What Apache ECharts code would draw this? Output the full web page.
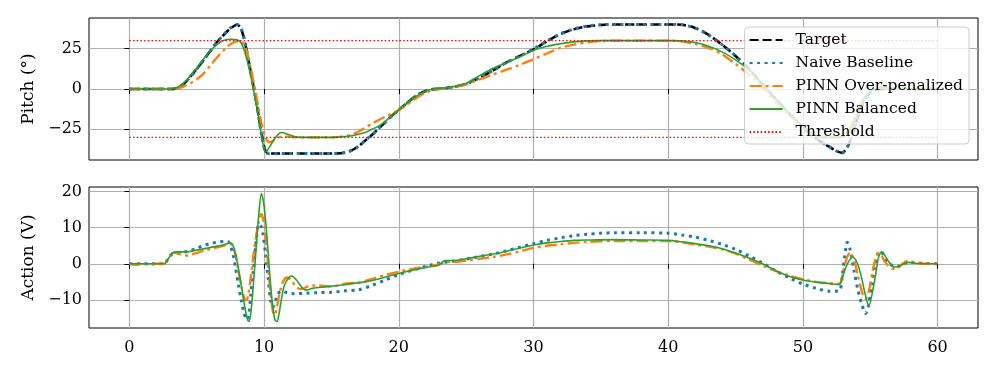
<!DOCTYPE html>
<html>
<head>
<meta charset="utf-8">
<script src="https://cdn.jsdelivr.net/npm/echarts@6/dist/echarts.min.js"></script>
<style>
  html, body { margin: 0; padding: 0; background: #fff; }
  #chart { width: 996px; height: 374px; }
</style>
</head>
<body>
<div id="chart"></div>
<script>
// tick labels
const xTicks = [0, 10, 20, 30, 40, 50, 60];
const pitchTicks = [-25, 0, 25];
const actionTicks = [-10, 0, 10, 20];

// pitch panel, [time s, pitch deg]
const targetPitch = [[0,0],[1,0],[2,0],[3,0],[3.5,0.5],[4,3],[4.5,7.5],[5,12.5],[5.5,18],[6,23.5],[6.5,29],[7,33.5],[7.5,37.5],[8,39.8],[8.3,37],[8.6,28],[8.9,15],[9.2,2],[9.5,-12],[9.8,-27],[10.1,-38.5],[10.4,-40],[11,-40],[12,-40],[13.5,-40],[15,-40],[16,-39.5],[16.5,-38],[17,-35.5],[17.5,-32],[18,-28.5],[18.5,-24.5],[19,-20.5],[19.5,-16.5],[20,-13],[20.5,-9.5],[21,-6],[21.5,-3.2],[22,-1.2],[22.5,-0.2],[23,0.2],[23.5,0.6],[24,1.2],[24.5,2],[25,3.2],[26,7],[27,11.5],[28,16.5],[29,20.5],[30,24.5],[31,29.5],[32,34],[33,37],[34,38.8],[35,39.7],[36,40],[38,40],[40,40],[41,39.8],[42,37.8],[43,33.5],[44,27.5],[45,20.5],[46,12.3],[47,3],[48,-6.4],[49,-15.5],[50,-23.8],[50.5,-27.5],[51,-30.8],[51.5,-33.5],[52,-36],[52.5,-38.5],[52.9,-39.5],[53.3,-36],[53.7,-28],[54.1,-17],[54.5,-8],[55,-2],[55.5,-0.3],[56,0],[58,0],[60,0]];
const naivePitch = [[0,0],[1,0],[2,0],[3,0],[3.5,0.4],[4,2.8],[4.5,7.2],[5,12.3],[5.5,17.8],[6,23.4],[6.5,29],[7,33.7],[7.5,37.8],[8,40],[8.3,37.5],[8.6,28.5],[8.9,15.5],[9.2,2.5],[9.5,-12],[9.8,-27.5],[10.1,-39],[10.4,-40.2],[11,-40],[12,-40],[13.5,-40],[15,-40],[16,-39.4],[16.5,-38],[17,-35.5],[17.5,-32],[18,-28.5],[18.5,-24.5],[19,-20.5],[19.5,-16.5],[20,-13],[20.5,-9.5],[21,-6],[21.5,-3.2],[22,-1.2],[22.5,-0.2],[23,0.2],[23.5,0.6],[24,1.2],[24.5,2],[25,3.2],[26,7],[27,11.5],[28,16.5],[29,20.5],[30,24.8],[31,29.8],[32,34.2],[33,37.2],[34,39],[35,39.8],[36,40],[38,40],[40,40],[41,39.8],[42,37.8],[43,33.5],[44,27.5],[45,20.5],[46,12.3],[47,3],[48,-6.4],[49,-15.5],[50,-23.8],[50.5,-27.5],[51,-30.8],[51.5,-33.5],[52,-36],[52.5,-38.5],[52.9,-39.8],[53.3,-36],[53.7,-27.5],[54.1,-16.5],[54.5,-7.5],[55,-1.5],[55.5,0],[56,0.2],[58,0],[60,0]];
const overPitch = [[0,0],[1,0],[2,0],[3,0],[3.5,0.2],[4,1.5],[4.5,3.5],[5,6],[5.5,9.5],[6,14.5],[6.5,19.5],[7,24],[7.5,27.8],[8,29.5],[8.3,29.5],[8.6,26],[8.9,17],[9.2,5],[9.5,-8],[9.8,-21],[10.1,-30],[10.4,-33],[10.8,-31.5],[11.3,-29.5],[11.8,-29.5],[12.5,-30],[13.5,-30],[15,-30],[16,-29.2],[16.5,-28.3],[17,-26.5],[17.5,-24],[18,-21.5],[18.5,-19.2],[19,-17.2],[19.5,-15.2],[20,-13],[20.5,-10.3],[21,-7.3],[21.5,-4.5],[22,-2.2],[22.5,-0.8],[23,0],[23.5,0.5],[24,1.2],[24.5,2],[25,3],[26,6],[27,9],[28,12],[29,15],[30,18.5],[31,22],[32,25.5],[33,27.5],[34,29],[35,29.7],[36,30],[38,30],[40,30],[41,29.5],[42,28],[43,25.5],[44,21.5],[45,15.5],[46,9],[47,1],[48,-8],[49,-16.5],[50,-23.5],[50.5,-26.5],[51,-28.8],[51.5,-29.8],[52,-30],[52.5,-30],[53,-29],[53.5,-24],[54,-15],[54.5,-6],[55,-1],[55.5,0.8],[56,0.8],[57,0],[60,0]];
const balancedPitch = [[0,0],[1,0],[2,0],[3,0],[3.5,0.8],[4,3.5],[4.5,8],[5,13],[5.5,18.5],[6,23.5],[6.5,27.5],[7,30],[7.5,30.8],[8,30.5],[8.3,28.5],[8.6,22],[8.9,12],[9.2,0],[9.5,-13],[9.8,-28],[10.1,-39],[10.4,-36],[10.8,-30.5],[11.3,-27],[11.8,-28.2],[12.5,-29.8],[13.5,-30],[15,-30],[16,-29.5],[16.5,-29],[17,-28],[17.5,-27],[18,-25],[18.5,-23],[19,-20],[19.5,-16.5],[20,-13],[20.5,-9.5],[21,-6.2],[21.5,-3.5],[22,-1.3],[22.5,-0.2],[23,0.3],[23.5,0.8],[24,1.4],[24.5,2.3],[25,3.5],[26,8.3],[27,12.8],[28,16.3],[29,20],[30,24],[31,26.5],[32,28],[33,29.2],[34,29.8],[35,30],[36,30],[38,30],[40,30],[41,29.8],[42,28.8],[43,26.5],[44,23],[45,18],[46,12],[47,3],[48,-6],[49,-15],[50,-23],[50.5,-26.5],[51,-29],[51.5,-30],[52,-30],[52.5,-30],[53,-29.5],[53.5,-26],[54,-17],[54.5,-7.5],[55,-1.5],[55.5,1],[56,1.3],[57,0.2],[58,0],[60,0]];
const thresholdUp = [[0,30],[60,30]];
const thresholdLow = [[0,-30],[60,-30]];

// action panel, [time s, volts]
const naiveAction = [[0,0],[2.6,0],[2.8,1],[3.0,2.3],[3.5,2.8],[4,3.2],[4.5,3.6],[5,4.3],[5.5,5.1],[6,5.6],[6.5,6],[7,6.2],[7.3,6.2],[7.5,5],[7.7,2.5],[7.9,-1.5],[8.1,-6],[8.3,-10],[8.5,-13.5],[8.7,-15.5],[8.85,-14.5],[9.0,-9],[9.2,-2],[9.4,6],[9.6,11],[9.75,10.5],[9.9,8.5],[10.1,3],[10.3,-4],[10.5,-10.5],[10.65,-12],[10.8,-11],[11.0,-8.5],[11.3,-7.5],[11.7,-8],[12.2,-8.3],[13,-8.2],[14,-8],[15,-7.9],[16,-7.5],[17,-7.2],[18,-6],[19,-4.5],[20,-3],[21,-1.8],[22,-0.7],[23,0.2],[24,0.7],[25,1.3],[26,2],[27,2.7],[28,3.6],[29,4.6],[30,5.6],[31,6.5],[32,7.2],[33,7.8],[34,8.2],[35,8.5],[36,8.6],[38,8.6],[40,8.5],[41,8],[42,7.4],[43,6.5],[44,5.4],[45,4],[46,2.2],[47,0.2],[48,-2],[49,-3.9],[50,-5.6],[51,-6.8],[52,-7.6],[52.7,-7.5],[52.9,-4],[53.1,2],[53.3,6],[53.5,4],[53.8,-2],[54.1,-7.5],[54.4,-11.5],[54.65,-13.8],[54.85,-12],[55.1,-6],[55.35,-0.5],[55.6,3.2],[55.8,3.4],[56.1,1.5],[56.5,-0.2],[57,-0.8],[57.5,0],[58,0.4],[59,0.1],[60,0]];
const overAction = [[0,0],[0.5,-0.3],[1,0.1],[1.5,-0.3],[2,0],[2.6,0],[2.9,1.5],[3.3,3.1],[3.8,2.7],[4.3,2.3],[4.8,2.8],[5.5,3.6],[6.2,4.3],[7,5.0],[7.5,5.5],[7.7,4.5],[7.9,2],[8.1,-2],[8.3,-6],[8.5,-9.2],[8.65,-10.2],[8.8,-9],[9.0,-4],[9.2,2],[9.4,7.5],[9.6,11.5],[9.8,13.8],[10.0,11],[10.2,4],[10.4,-5],[10.6,-12],[10.75,-14.2],[10.9,-13],[11.1,-9],[11.4,-5],[11.7,-3.8],[12.0,-4.5],[12.4,-6.5],[12.8,-7],[13.3,-6.2],[14,-6],[15,-6.3],[16,-5.5],[17,-5.2],[18,-4.2],[19,-3.1],[20,-2.2],[21,-1.4],[22,-0.8],[23,-0.2],[23.5,0.6],[24,0.5],[25,0.9],[26,1.4],[27,1.9],[28,2.6],[29,3.5],[30,4.4],[31,5],[32,5.4],[33,5.8],[34,6.1],[36,6.3],[38,6.3],[40,6.3],[41,6],[42,5.3],[43,4.8],[44,4],[45,2.8],[46,1.2],[47,-0.5],[48,-2],[49,-3.3],[50,-4.3],[51,-5],[52,-5.4],[52.7,-5.5],[53.0,-2],[53.25,1.5],[53.5,3.2],[53.8,1],[54.1,-3.5],[54.4,-8],[54.65,-9.7],[54.9,-7.5],[55.15,-2.5],[55.4,1.5],[55.65,3],[55.9,1.8],[56.2,0],[56.6,-1.3],[56.9,-1.5],[57.3,-0.3],[57.8,0.9],[58.3,0.3],[59,0],[60,0]];
const balancedAction = [[0,0],[2.6,0],[2.9,1.5],[3.2,3],[3.6,3.3],[4.2,3.3],[5,3.8],[6,4.5],[6.5,4.9],[7,5.3],[7.5,5.8],[7.7,5],[7.9,2.5],[8.1,-1.5],[8.3,-6],[8.5,-10.5],[8.7,-14.5],[8.85,-16],[9.0,-14],[9.2,-6],[9.4,4],[9.6,13.5],[9.8,19.5],[10.0,16],[10.2,8],[10.4,-2],[10.6,-10.5],[10.8,-15.5],[10.95,-16],[11.1,-14],[11.3,-9.5],[11.5,-6],[11.8,-4],[12.05,-3.4],[12.4,-4.5],[12.8,-6.5],[13.1,-7.3],[13.6,-6.8],[14.5,-6.4],[15.5,-6],[16.5,-5.5],[17.5,-5],[18.5,-4.2],[19.5,-3.2],[20.5,-2.2],[21.5,-1.4],[22.5,-0.7],[23.0,-0.3],[23.4,0.9],[24,0.9],[25,1.4],[26,2.1],[27,2.7],[28,3.5],[29,4.4],[30,5.2],[31,5.8],[32,6.2],[33,6.5],[34,6.6],[36,6.7],[38,6.6],[40,6.5],[41,6.1],[42,5.6],[43,5],[44,4.2],[45,3],[46,1.6],[47,0],[48,-1.9],[49,-3.5],[50,-4.5],[51,-5.1],[52,-5.5],[52.7,-5.8],[53.0,-3],[53.3,0],[53.7,1.8],[54.0,0.5],[54.3,-3],[54.6,-8],[54.9,-11.6],[55.1,-9],[55.4,-3],[55.6,1.5],[55.85,3.3],[56.1,2.2],[56.4,0.4],[56.8,-0.9],[57.2,-0.6],[57.8,0.4],[58.5,0.1],[60,0]];

const FONT = "'DejaVu Serif', serif";
const GRID_LINE = { lineStyle: { color: '#b0b0b0', width: 1.2 } };
const minus = v => String(v).replace('-', '\u2212');

const myChart = echarts.init(document.getElementById('chart'));

function xAxisFor(idx, labels) {
  return {
    type: 'value', gridIndex: idx, min: -3, max: 63,
    axisLine: { show: false },
    axisTick: { show: true, length: 5, customValues: xTicks, lineStyle: { color: '#000', width: 1 } },
    axisLabel: { show: labels, customValues: xTicks, margin: 12, color: '#000', fontFamily: FONT, fontSize: 16, formatter: minus },
    splitLine: { show: true, ...GRID_LINE }
  };
}
function yAxisFor(idx, min, max, ticks, name) {
  return {
    type: 'value', gridIndex: idx, min: min, max: max,
    name: name, nameLocation: 'middle', nameGap: 52, nameRotate: 90,
    nameTextStyle: { color: '#000', fontFamily: FONT, fontSize: 17 },
    axisLine: { show: false },
    axisTick: { show: true, length: 5, customValues: ticks, lineStyle: { color: '#000', width: 1 } },
    axisLabel: { customValues: ticks, margin: 7, color: '#000', fontFamily: FONT, fontSize: 16, formatter: minus },
    splitLine: { show: true, ...GRID_LINE }
  };
}
function line(name, data, panel, style, z) {
  return {
    name: name, type: 'line', xAxisIndex: panel, yAxisIndex: panel,
    data: data, symbol: 'none', showSymbol: false, smooth: 0.3,
    itemStyle: { color: style.color },
    lineStyle: style, z: z, silent: true
  };
}

const targetStyle = { color: '#000000', width: 2.6, type: [9, 4] };
const naiveStyle = { color: '#1f77b4', width: 3, type: [3, 4.5] };
const overStyle = { color: '#ff7f0e', width: 2.4, type: [12, 4, 3, 4] };
const balancedStyle = { color: '#2ca02c', width: 1.6, type: 'solid' };
const thresholdStyle = { color: '#ff0000', width: 1.3, type: [1.5, 2.2] };

const options = {
  animation: false,
  backgroundColor: '#fff',
  grid: [
    { left: 89, right: 18, top: 18, height: 142, show: true, borderColor: '#000', borderWidth: 1 },
    { left: 89, right: 18, top: 187, height: 141, show: true, borderColor: '#000', borderWidth: 1 }
  ],
  xAxis: [xAxisFor(0, false), xAxisFor(1, true)],
  yAxis: [
    yAxisFor(0, -44, 44, pitchTicks, 'Pitch (°)'),
    yAxisFor(1, -17.8, 21.3, actionTicks, 'Action (V)')
  ],
  legend: {
    data: ['Target', 'Naive Baseline', 'PINN Over-penalized', 'PINN Balanced', 'Threshold'],
    orient: 'vertical', right: 27, top: 27, z: 20,
    itemWidth: 33, itemHeight: 14, itemGap: 7,
    padding: [5, 6, 4, 4],
    itemStyle: { opacity: 0 },
    backgroundColor: 'rgba(255,255,255,0.8)',
    borderColor: '#cccccc', borderWidth: 1, borderRadius: 4,
    textStyle: { color: '#000', fontFamily: FONT, fontSize: 15.5, padding: [0, 0, 0, 8] },
    selectedMode: false
  },
  series: [
    line('Target', targetPitch, 0, targetStyle, 2),
    line('Naive Baseline', naivePitch, 0, naiveStyle, 3),
    line('PINN Over-penalized', overPitch, 0, overStyle, 4),
    line('PINN Balanced', balancedPitch, 0, balancedStyle, 5),
    line('Threshold', thresholdUp, 0, thresholdStyle, 6),
    line('Threshold', thresholdLow, 0, thresholdStyle, 6),
    line('Naive Baseline', naiveAction, 1, naiveStyle, 3),
    line('PINN Over-penalized', overAction, 1, overStyle, 4),
    line('PINN Balanced', balancedAction, 1, balancedStyle, 5)
  ]
};

myChart.setOption(options);
</script>
</body>
</html>
